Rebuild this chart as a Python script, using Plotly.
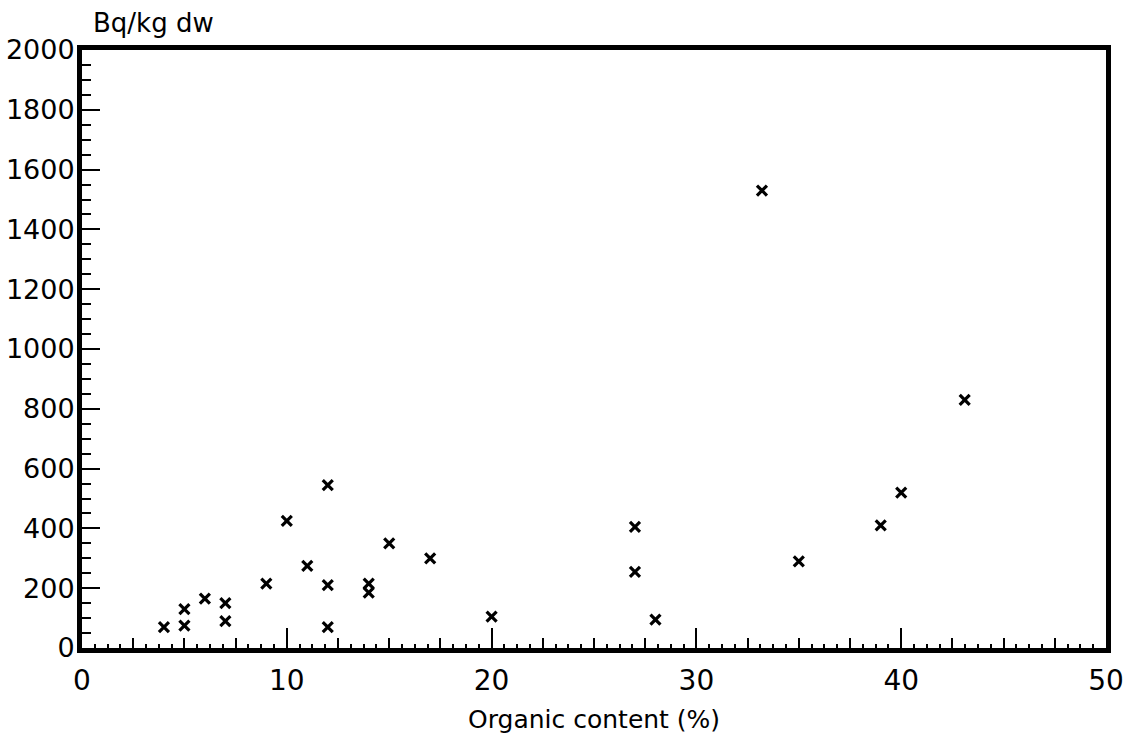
import plotly.graph_objects as go

# Organic content (%) and activity (Bq/kg dw)
organic_pct = [4, 5, 5, 6, 7, 7, 9, 10, 11, 12, 12, 12, 14, 14, 15, 17, 20,
               27, 27, 28, 33.2, 35, 39, 40, 43.1]
activity_bq = [70, 75, 130, 165, 150, 90, 215, 425, 275, 545, 210, 70, 215, 185, 350, 300, 105,
               405, 255, 95, 1530, 290, 410, 520, 830]

x_tick_vals = [0, 10, 20, 30, 40, 50]
y_tick_vals = [0, 200, 400, 600, 800, 1000, 1200, 1400, 1600, 1800, 2000]

x_title = "Organic content (%)"
y_title = "Bq/kg dw"

FONT = "DejaVu Sans"

fig = go.Figure()
fig.add_trace(go.Scatter(
    x=organic_pct, y=activity_bq, mode="markers",
    marker=dict(symbol="x-thin-open", size=10, color="black",
                line=dict(width=3.2, color="black")),
    showlegend=False, hoverinfo="x+y",
))
# invisible trace to carry the fine-tick overlay axis
fig.add_trace(go.Scatter(
    x=organic_pct, y=activity_bq, mode="markers", xaxis="x2",
    marker=dict(opacity=0), showlegend=False, hoverinfo="skip",
))

fig.update_layout(
    width=1134, height=745,
    margin=dict(l=82, r=28, t=50, b=97),
    paper_bgcolor="white", plot_bgcolor="white",
    font=dict(family=FONT, size=26, color="black"),
    xaxis=dict(
        range=[0, 50], tickmode="array", tickvals=x_tick_vals,
        ticktext=[str(v) for v in x_tick_vals],
        ticks="inside", ticklen=20, tickwidth=2, tickcolor="black",
        minor=dict(dtick=2.5, ticks="inside", ticklen=10, tickwidth=2, tickcolor="black"),
        showline=True, linewidth=5, linecolor="black", mirror=True,
        showgrid=False, zeroline=False, automargin=False,
        tickfont=dict(family=FONT, size=28),
        ticklabelstandoff=3,
    ),
    xaxis2=dict(
        range=[0, 50], overlaying="x", anchor="y", side="bottom",
        tick0=0, dtick=0.625, ticks="inside", ticklen=4, tickwidth=1.5, tickcolor="black",
        showticklabels=False, showline=False, showgrid=False, zeroline=False,
        automargin=False,
    ),
    yaxis=dict(
        range=[0, 2000], tickmode="array", tickvals=y_tick_vals,
        ticks="inside", ticklen=18, tickwidth=2, tickcolor="black",
        minor=dict(dtick=50, ticks="inside", ticklen=9, tickwidth=2, tickcolor="black"),
        showline=True, linewidth=5, linecolor="black", mirror=True,
        showgrid=False, zeroline=False, automargin=False,
        tickfont=dict(family=FONT, size=27),
        ticklabelstandoff=-3,
    ),
    annotations=[
        dict(text=y_title, xref="paper", yref="paper",
             x=0.009, y=1.045, xanchor="left", yanchor="middle",
             showarrow=False, font=dict(family=FONT, size=26, color="black")),
        dict(text=x_title, xref="paper", yref="paper",
             x=0.5, y=-0.12, xanchor="center", yanchor="middle",
             showarrow=False, font=dict(family=FONT, size=25, color="black")),
    ],
)

fig.write_html("out.html")
